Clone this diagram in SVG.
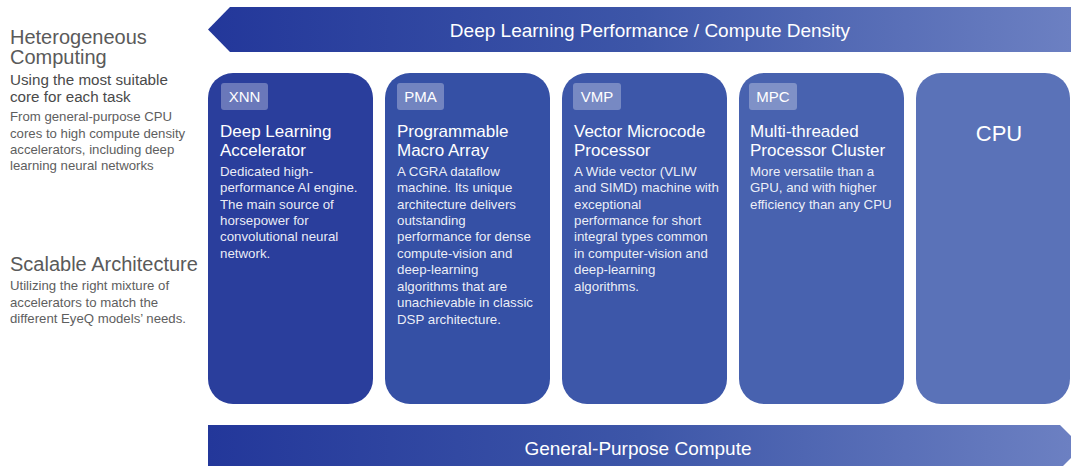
<svg xmlns="http://www.w3.org/2000/svg" width="1071" height="466" viewBox="0 0 1071 466">
  <defs>
    <linearGradient id="band" x1="208" y1="0" x2="1071" y2="0" gradientUnits="userSpaceOnUse">
      <stop offset="0" stop-color="#23379a"/>
      <stop offset="0.5" stop-color="#3d56a8"/>
      <stop offset="1" stop-color="#6c80c2"/>
    </linearGradient>
    <style>
      text { font-family: "Liberation Sans", Arial, sans-serif; }
      .lh { font-size: 20px; fill: #5a5a5a; }
      .ls { font-size: 15.2px; fill: #4a4a4a; }
      .lb { font-size: 13.2px; fill: #5e5e5e; }
      .band { font-size: 19px; fill: #ffffff; text-anchor: middle; }
      .tag { fill: #ffffff; fill-opacity: 0.3; }
      .tagt { font-size: 15px; fill: #ffffff; text-anchor: middle; }
      .title { font-size: 17px; fill: #ffffff; }
      .body { font-size: 13.3px; fill: #ffffff; fill-opacity: 0.92; }
      .cpu { font-size: 22px; fill: #ffffff; text-anchor: middle; }
    </style>
  </defs>

  <rect width="1071" height="466" fill="#ffffff"/>

  <g id="left-text">
    <text class="lh" x="10" y="44">Heterogeneous</text>
    <text class="lh" x="10" y="64">Computing</text>
    <text class="ls" x="10" y="85">Using the most suitable</text>
    <text class="ls" x="10" y="102">core for each task</text>
    <text class="lb" x="10" y="121">From general-purpose CPU</text>
    <text class="lb" x="10" y="137.5">cores to high compute density</text>
    <text class="lb" x="10" y="154">accelerators, including deep</text>
    <text class="lb" x="10" y="170">learning neural networks</text>
    <text class="lh" x="10" y="271">Scalable Architecture</text>
    <text class="lb" x="10" y="290">Utilizing the right mixture of</text>
    <text class="lb" x="10" y="306.5">accelerators to match the</text>
    <text class="lb" x="10" y="323">different EyeQ models’ needs.</text>
  </g>

  <g id="connectors">
    <g id="top-band">
      <polygon points="208,29.5 230,7 1071,7 1071,52 230,52" fill="url(#band)"/>
      <text class="band" x="650" y="37">Deep Learning Performance / Compute Density</text>
    </g>
    <g id="bottom-band">
      <polygon points="208,425 1060,425 1082,447 1060,469 208,469" fill="url(#band)"/>
      <text class="band" x="638" y="455">General-Purpose Compute</text>
    </g>
  </g>

  <g id="xnn">
    <rect x="208" y="73" width="165" height="331" rx="25" fill="#2a3e9c"/>
    <rect class="tag" x="221" y="83" width="47" height="27" rx="3"/>
    <text class="tagt" x="244.5" y="102">XNN</text>
    <text class="title" x="220" y="137">Deep Learning</text>
    <text class="title" x="220" y="156">Accelerator</text>
    <text class="body" x="220" y="175.5">Dedicated high-</text>
    <text class="body" x="220" y="192">performance AI engine.</text>
    <text class="body" x="220" y="208.5">The main source of</text>
    <text class="body" x="220" y="225">horsepower for</text>
    <text class="body" x="220" y="241">convolutional neural</text>
    <text class="body" x="220" y="257.5">network.</text>
  </g>

  <g id="pma">
    <rect x="385" y="73" width="165" height="331" rx="25" fill="#3550a5"/>
    <rect class="tag" x="397" y="83" width="47" height="27" rx="3"/>
    <text class="tagt" x="420.5" y="102">PMA</text>
    <text class="title" x="397" y="137">Programmable</text>
    <text class="title" x="397" y="156">Macro Array</text>
    <text class="body" x="397" y="175.5">A CGRA dataflow</text>
    <text class="body" x="397" y="192">machine. Its unique</text>
    <text class="body" x="397" y="208.5">architecture delivers</text>
    <text class="body" x="397" y="225">outstanding</text>
    <text class="body" x="397" y="241">performance for dense</text>
    <text class="body" x="397" y="257.5">compute-vision and</text>
    <text class="body" x="397" y="274">deep-learning</text>
    <text class="body" x="397" y="290.5">algorithms that are</text>
    <text class="body" x="397" y="307">unachievable in classic</text>
    <text class="body" x="397" y="323.5">DSP architecture.</text>
  </g>

  <g id="vmp">
    <rect x="562" y="73" width="165" height="331" rx="25" fill="#3d57a9"/>
    <rect class="tag" x="573" y="83" width="48" height="27" rx="3"/>
    <text class="tagt" x="597" y="102">VMP</text>
    <text class="title" x="574" y="137">Vector Microcode</text>
    <text class="title" x="574" y="156">Processor</text>
    <text class="body" x="574" y="175.5">A Wide vector (VLIW</text>
    <text class="body" x="574" y="192">and SIMD) machine with</text>
    <text class="body" x="574" y="208.5">exceptional</text>
    <text class="body" x="574" y="225">performance for short</text>
    <text class="body" x="574" y="241">integral types common</text>
    <text class="body" x="574" y="257.5">in computer-vision and</text>
    <text class="body" x="574" y="274">deep-learning</text>
    <text class="body" x="574" y="290.5">algorithms.</text>
  </g>

  <g id="mpc">
    <rect x="739" y="73" width="165" height="331" rx="25" fill="#4862af"/>
    <rect class="tag" x="749" y="83" width="48" height="27" rx="3"/>
    <text class="tagt" x="773" y="102">MPC</text>
    <text class="title" x="750" y="137">Multi-threaded</text>
    <text class="title" x="750" y="156">Processor Cluster</text>
    <text class="body" x="750" y="175.5">More versatile than a</text>
    <text class="body" x="750" y="192">GPU, and with higher</text>
    <text class="body" x="750" y="208.5">efficiency than any CPU</text>
  </g>

  <g id="cpu">
    <rect x="916" y="73" width="154" height="331" rx="25" fill="#5a72b8"/>
    <text class="cpu" x="999" y="141">CPU</text>
  </g>
</svg>
